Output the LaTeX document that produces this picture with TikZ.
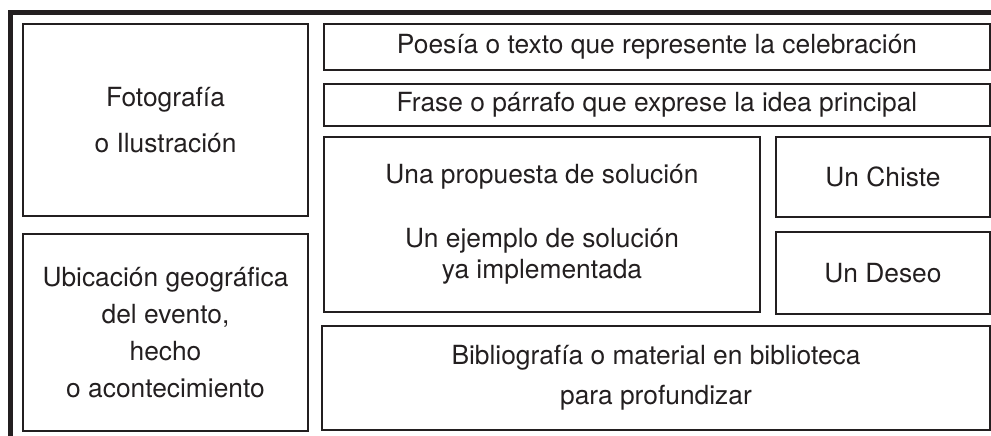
\documentclass[tikz,border=0pt]{standalone}
\usepackage{fontspec}
\setmainfont{TeX Gyre Heros}
\usepackage{tikz}
\usetikzlibrary{positioning}
\definecolor{inkgray}{RGB}{35,31,32}
\tikzset{
  panel/.style={draw=inkgray, line width=1.1pt, align=center, text=inkgray,
                font=\fontsize{15}{18}\selectfont, inner sep=0pt},
}

\begin{document}
\begin{tikzpicture}[x=0.02cm, y=-0.02cm]
  \useasboundingbox (0,0) rectangle (991,436);
  % outer frame, open at right and bottom
  \draw[inkgray, line width=2.85pt] (10.8,445) |- (1000,12.5);

  % left column
  \node[panel, minimum width=5.70cm, minimum height=3.84cm] (foto) at (165.5,120)
       {Fotografía\\[8pt]o Ilustración};
  \node[panel, minimum width=5.70cm, minimum height=3.94cm, below=0.32cm of foto] (ubicacion)
       {Ubicación geográfica\\[3pt]del evento,\\[3pt]hecho\\[3pt]o acontecimiento};

  % right column
  \node[panel, minimum width=13.32cm, minimum height=0.92cm] (poesia) at (657,47)
       {Poesía o texto que represente la celebración};
  \node[panel, minimum width=13.32cm, minimum height=0.84cm, below=0.24cm of poesia] (frase)
       {Frase o párrafo que exprese la idea principal};
  \node[panel, minimum width=8.72cm, minimum height=3.50cm] (propuesta) at (542,224.5)
       {Una propuesta de solución\\[18pt]Un ejemplo de solución\\ya implementada};
  \node[panel, minimum width=4.28cm, minimum height=1.60cm] (chiste) at (883,177)
       {Un Chiste};
  \node[panel, minimum width=4.28cm, minimum height=1.64cm, below=0.26cm of chiste] (deseo)
       {Un Deseo};
  \node[panel, minimum width=13.36cm, minimum height=2.08cm] (biblio) at (656,378)
       {Bibliografía o material en biblioteca\\[5pt]para profundizar};
\end{tikzpicture}
\end{document}
